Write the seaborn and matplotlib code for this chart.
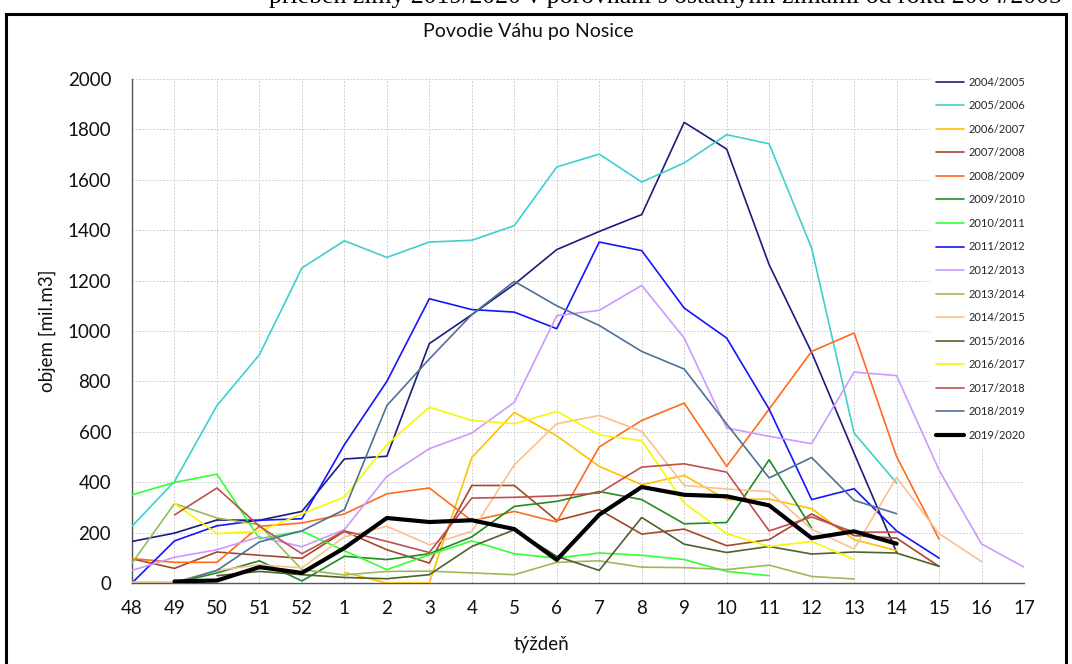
import numpy as np
import pandas as pd
import matplotlib
matplotlib.use("Agg")
import matplotlib.pyplot as plt
from matplotlib.lines import Line2D
from matplotlib.patches import Rectangle
import seaborn as sns

weeks = ["48", "49", "50", "51", "52", "1", "2", "3", "4", "5", "6", "7",
         "8", "9", "10", "11", "12", "13", "14", "15", "16", "17"]

N = None
s0405 = [165, 198, 250, 249, 284, 492, 503, 950, 1065, 1185, 1323, 1395, 1462, 1828, 1722, 1263, 915, 515, 122, N, N, N]
s0506 = [225, 403, 704, 906, 1250, 1358, 1292, 1353, 1360, 1418, 1651, 1702, 1591, 1667, 1779, 1743, 1329, 595, 397, N, N, N]
s0607 = [N, N, N, N, N, 42, 0, 0, 498, 677, 584, 463, 390, 427, 331, 333, 295, 172, 129, N, N, N]
s0708 = [96, 58, 123, 110, 98, 205, 132, 79, 387, 387, 248, 291, 194, 214, 148, 172, 274, 188, 178, 66, N, N]
s0809 = [97, 82, 82, 225, 238, 274, 354, 377, 247, 284, 242, 540, 645, 714, 463, 690, 919, 992, 502, 174, N, N]
s0910 = [0, 0, 40, 88, 8, 106, 93, 116, 183, 304, 324, 363, 331, 235, 240, 489, 218, N, N, N, N, N]
s1011 = [350, 399, 432, 176, 206, 128, 53, 112, 167, 116, 99, 119, 110, 93, 46, 29, N, N, N, N, N, N]
s1112 = [0, 167, 227, 249, 255, 549, 800, 1128, 1085, 1075, 1009, 1353, 1319, 1091, 972, 690, 331, 374, 207, 99, N, N]
s1213 = [50, 102, 132, 183, 144, 212, 423, 533, 595, 717, 1061, 1082, 1181, 972, 615, 582, 553, 837, 823, 448, 155, 63]
s1314 = [79, 315, 258, 231, 53, 32, 46, 47, 40, 33, 82, 88, 63, 61, 53, 71, 26, 16, N, N, N, N]
s1415 = [4, 4, 50, 72, 60, 183, 225, 152, 205, 469, 632, 665, 602, 387, 373, 363, 214, 135, 419, 196, 85, N]
s1516 = [N, N, 29, 46, 33, 22, 17, 33, 145, 211, 106, 50, 260, 154, 121, 145, 115, 123, 119, 66, N, N]
s1617 = [N, 315, 196, 205, 274, 341, 549, 698, 645, 632, 681, 588, 565, 317, 196, 145, 165, 93, N, N, N, N]
s1718 = [N, 270, 377, 225, 116, 207, 165, 121, 337, 340, 346, 357, 460, 473, 440, 207, 262, 202, 202, N, N, N]
s1819 = [N, 0, 50, 163, 207, 291, 704, 889, 1065, 1197, 1100, 1022, 919, 849, 631, 417, 498, 328, 275, N, N, N]
s1920 = [N, 6, 10, 63, 40, 139, 258, 242, 249, 214, 92, 271, 381, 350, 344, 308, 178, 205, 156, N, N, N]

seasons = ["2004/2005", "2005/2006", "2006/2007", "2007/2008", "2008/2009",
           "2009/2010", "2010/2011", "2011/2012", "2012/2013", "2013/2014",
           "2014/2015", "2015/2016", "2016/2017", "2017/2018", "2018/2019",
           "2019/2020"]
series = [s0405, s0506, s0607, s0708, s0809, s0910, s1011, s1112, s1213,
          s1314, s1415, s1516, s1617, s1718, s1819, s1920]
colors = ["#1C1C7C", "#3ECFCF", "#FFC000", "#A5472A", "#FF6B1A", "#228B22",
          "#33FF33", "#1414FF", "#CC99FF", "#9BBB59", "#FAC08F", "#4F6228",
          "#F8F800", "#C0504D", "#4F7096", "#000000"]

rows = []
for name, vals in zip(seasons, series):
    for i, v in enumerate(vals):
        if v is not None:
            rows.append({"sezona": name, "pos": i, "objem": v})
df = pd.DataFrame(rows)

sns.set_style("white")
plt.rcParams["font.family"] = ["Lato", "DejaVu Sans"]

fig = plt.figure(figsize=(10.72, 6.64), dpi=100)
ax = fig.add_axes([132 / 1072, 1 - 583 / 664, 892 / 1072, 504 / 664])

for name, col in zip(seasons, colors):
    lw = 3.0 if name == "2019/2020" else 1.2
    sns.lineplot(data=df[df["sezona"] == name], x="pos", y="objem", color=col,
                 linewidth=lw, ax=ax, legend=False,
                 zorder=5 if name == "2019/2020" else 3)

ax.set_xlim(0, len(weeks) - 1)
ax.set_ylim(0, 2000)
ax.set_xticks(range(len(weeks)))
ax.set_xticklabels(weeks)
ax.set_yticks(range(0, 2001, 200))
ax.grid(True, color="#CFCFCF", linestyle=(0, (2, 1.5)), linewidth=0.7)
ax.set_axisbelow(True)
for side in ["top", "right"]:
    ax.spines[side].set_visible(False)
for side in ["left", "bottom"]:
    ax.spines[side].set_color("#555555")
    ax.spines[side].set_linewidth(1.0)
ax.tick_params(axis="both", which="both", direction="out", length=6,
               width=1.0, color="#555555", labelsize=13.5, labelcolor="#111111")
ax.tick_params(axis="x", pad=6)
ax.tick_params(axis="y", pad=9)
ax.set_xlabel("týždeň", fontsize=13.5, color="#111111")
ax.xaxis.set_label_coords((541 - 132) / 892, -(636 - 583) / 504)
ax.set_ylabel("objem [mil.m3]", fontsize=13.5, labelpad=8, color="#111111")

handles = [Line2D([0], [0], color=c, linewidth=(3.0 if s == "2019/2020" else 1.2))
           for s, c in zip(seasons, colors)]
leg = fig.legend(handles, seasons, loc="upper left",
                 bbox_to_anchor=(930 / 1072, 1 - 71 / 664), frameon=True,
                 fontsize=8, labelspacing=1.13, handlelength=2.6,
                 handletextpad=0.35, borderpad=0.5, borderaxespad=0)
leg.get_frame().set_facecolor("white")
leg.get_frame().set_edgecolor("white")
leg.get_frame().set_alpha(1.0)
leg.set_zorder(10)

fig.text(528 / 1072, 1 - 32 / 664, "Povodie Váhu po Nosice", ha="center",
         va="center", fontsize=14, color="#111111")

fig.text(665 / 1072, 1 + 3 / 664,
         "priebeh zimy 2019/2020 v porovnaní s ostatnými zimami od roku 2004/2005",
         ha="center", va="center", fontsize=18.5, family="Liberation Serif",
         color="#000000")

fig.patches.append(Rectangle((6 / 1072, -0.05), 1060 / 1072, 1.05 - 14 / 664,
                             transform=fig.transFigure, fill=False,
                             edgecolor="black", linewidth=2.2))

fig.savefig("out.png", dpi=100, facecolor="white")
